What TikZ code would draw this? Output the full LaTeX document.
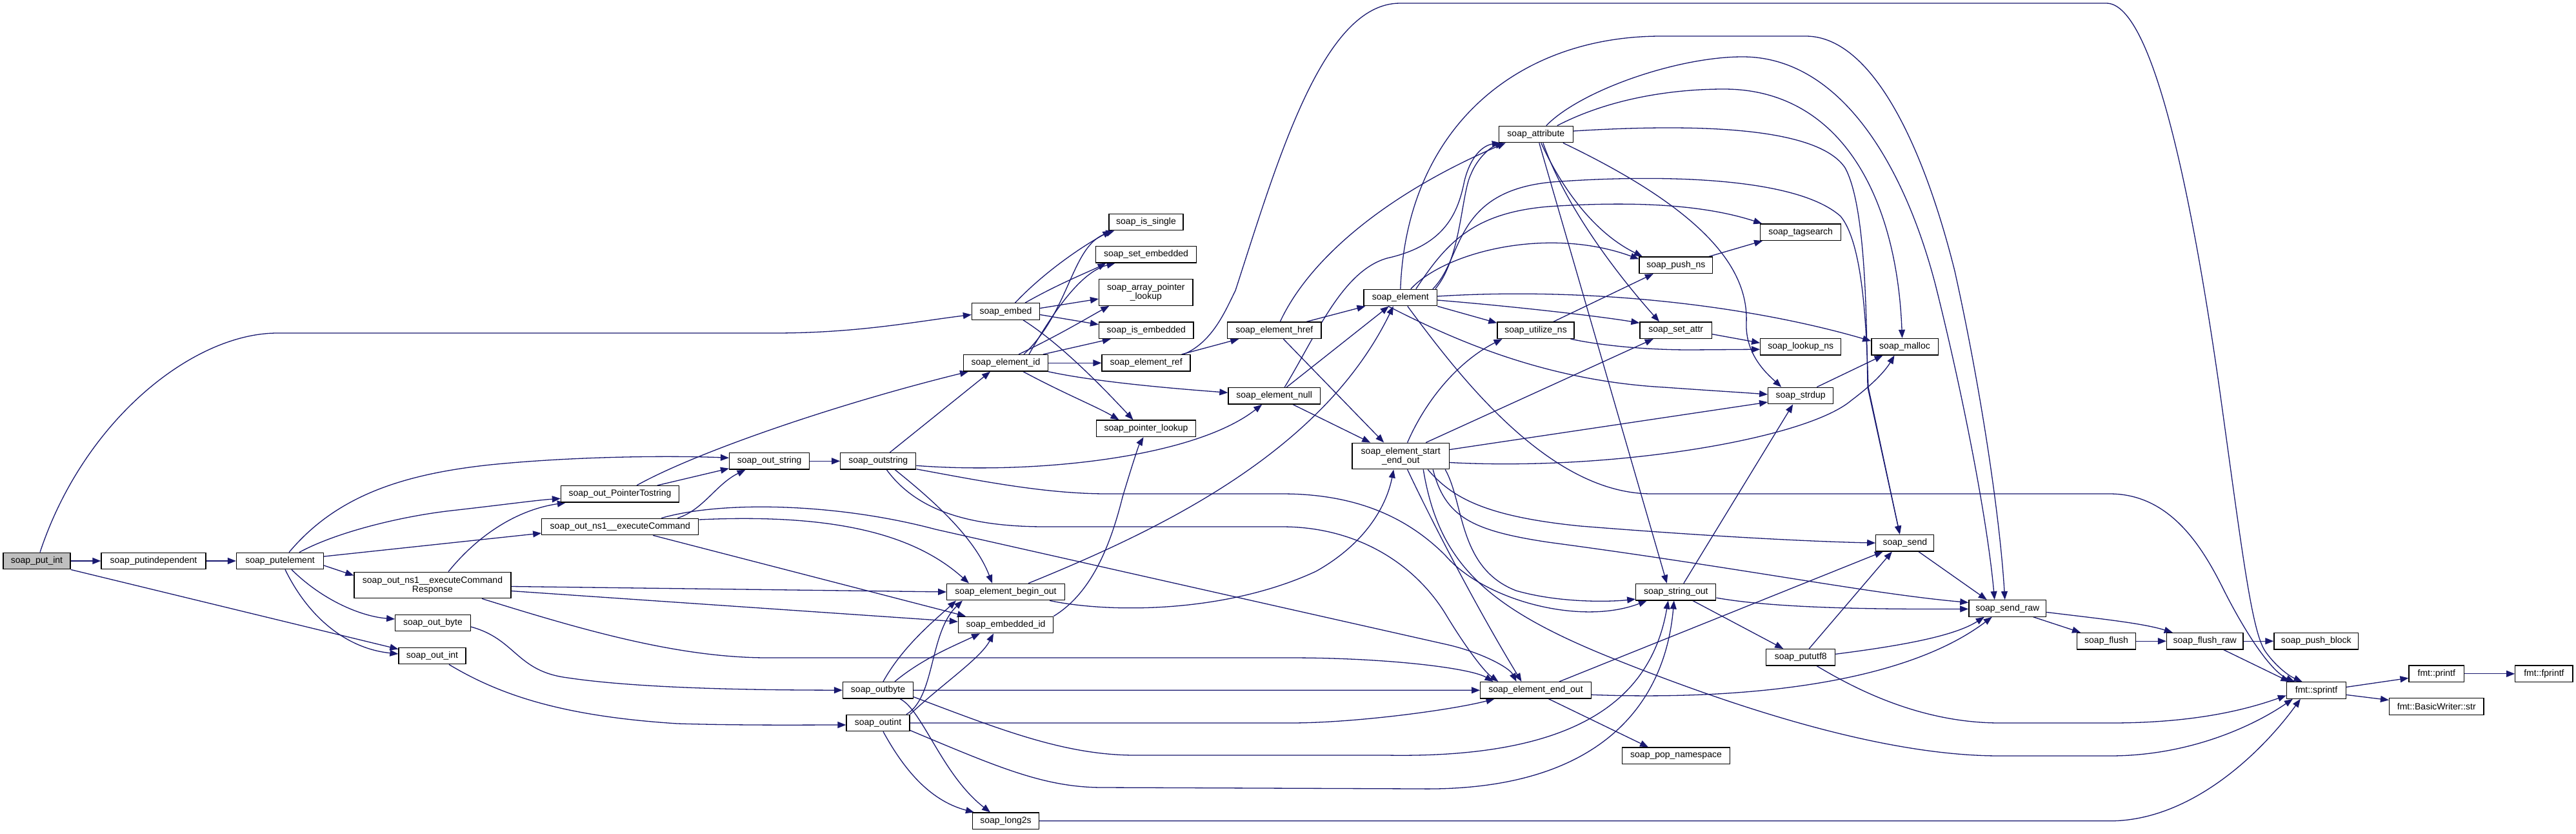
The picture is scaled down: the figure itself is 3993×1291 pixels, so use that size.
\documentclass[tikz,border=0pt]{standalone}
\usepackage{fontspec}
\setmainfont{Liberation Sans}
\usetikzlibrary{arrows.meta}
\definecolor{edgeblue}{RGB}{25,25,112}
\pgfdeclarelayer{bg}
\pgfdeclarelayer{edges}
\pgfsetlayers{bg,edges,main}
\begin{document}
\begin{tikzpicture}[x=1pt,y=-1pt,
  fn/.style={draw=black, fill=white, line width=1.3pt, inner sep=0pt, minimum height=25.5pt, font=\fontsize{14}{14}\selectfont, align=center},
  fntwo/.style={fn, minimum height=40.5pt},
  call/.style={draw=edgeblue, line width=1.3pt, -{Triangle[length=13pt,width=10pt]}},
]
\useasboundingbox (0,0) rectangle (3993,1291);
\begin{pgfonlayer}{bg}
\fill[white] (0,0) rectangle (3993,1291);
\end{pgfonlayer}

% nodes
\node[fn, fill=gray!50, minimum width=104pt] (putint) at (57,869) {soap\_put\_int};
\node[fn, minimum width=162pt] (putindep) at (238,869) {soap\_putindependent};
\node[fn, minimum width=135pt] (putelem) at (434,869) {soap\_putelement};
\node[fntwo, minimum width=243pt] (resp) at (670.5,906.5) {soap\_out\_ns1\_\_executeCommand\\Response};
\node[fn, minimum width=116.5pt] (outbyteA) at (671,965) {soap\_out\_byte};
\node[fn, minimum width=104pt] (outintA) at (670,1016) {soap\_out\_int};
\node[fn, minimum width=183pt] (ptrstr) at (961,765.3) {soap\_out\_PointerTostring};
\node[fn, minimum width=243pt] (execcmd) at (961.3,816) {soap\_out\_ns1\_\_executeCommand};
\node[fn, minimum width=124pt] (outstr) at (1192.6,714.3) {soap\_out\_string};
\node[fn, minimum width=117pt] (outstring) at (1361.3,714.3) {soap\_outstring};
\node[fn, minimum width=109pt] (outbyte) at (1361,1069.2) {soap\_outbyte};
\node[fn, minimum width=98pt] (outint) at (1361,1120) {soap\_outint};
\node[fn, minimum width=105pt] (embed) at (1559,482.5) {soap\_embed};
\node[fn, minimum width=130.5pt] (elemid) at (1559,562.3) {soap\_element\_id};
\node[fn, minimum width=182.5pt] (beginout) at (1559,917) {soap\_element\_begin\_out};
\node[fn, minimum width=147pt] (embid) at (1559,968) {soap\_embedded\_id};
\node[fn, minimum width=102.7pt] (long2s) at (1559,1271.8) {soap\_long2s};
\node[fn, minimum width=115pt] (issingle) at (1776.5,344) {soap\_is\_single};
\node[fn, minimum width=156pt] (setemb) at (1776.5,394.3) {soap\_set\_embedded};
\node[fntwo, minimum width=145.4pt] (arrptr) at (1776.3,453) {soap\_array\_pointer\\\_lookup};
\node[fn, minimum width=146.4pt] (isemb) at (1776.8,511.7) {soap\_is\_embedded};
\node[fn, minimum width=137pt] (elemref) at (1776.6,562.3) {soap\_element\_ref};
\node[fn, minimum width=154pt] (ptrlook) at (1776.5,663.8) {soap\_pointer\_lookup};
\node[fn, minimum width=145.4pt] (href) at (1975.3,511.7) {soap\_element\_href};
\node[fn, minimum width=142.4pt] (null) at (1975.2,613.3) {soap\_element\_null};
\node[fn, minimum width=113.5pt] (elem) at (2170.8,461) {soap\_element};
\node[fntwo, minimum width=150.4pt] (seo) at (2171.2,706.5) {soap\_element\_start\\\_end\_out};
\node[fn, minimum width=115pt] (attr) at (2380.8,208) {soap\_attribute};
\node[fn, minimum width=119pt] (utilns) at (2380.5,511.7) {soap\_utilize\_ns};
\node[fn, minimum width=171.6pt] (endout) at (2380.5,1069.3) {soap\_element\_end\_out};
\node[fn, minimum width=113.6pt] (pushns) at (2597.8,410.7) {soap\_push\_ns};
\node[fn, minimum width=111.4pt] (setattr) at (2597.7,511.7) {soap\_set\_attr};
\node[fn, minimum width=124pt] (strout) at (2597.8,917.1) {soap\_string\_out};
\node[fn, minimum width=167pt] (popns) at (2598,1170.8) {soap\_pop\_namespace};
\node[fn, minimum width=125pt] (tagsearch) at (2791.2,359.7) {soap\_tagsearch};
\node[fn, minimum width=125pt] (lookupns) at (2791.2,537.2) {soap\_lookup\_ns};
\node[fn, minimum width=101pt] (strdup) at (2791.2,613) {soap\_strdup};
\node[fn, minimum width=106.8pt] (pututf) at (2791.2,1018.3) {soap\_pututf8};
\node[fn, minimum width=103.3pt] (malloc) at (2952.5,537.2) {soap\_malloc};
\node[fn, minimum width=90pt] (send) at (2952.8,841.1) {soap\_send};
\node[fn, minimum width=119.7pt] (sendraw) at (3111.7,942.4) {soap\_send\_raw};
\node[fn, minimum width=90.5pt] (flush) at (3265,993.2) {soap\_flush};
\node[fn, minimum width=118.4pt] (flushraw) at (3417.7,993.2) {soap\_flush\_raw};
\node[fn, minimum width=130.5pt] (pushblock) at (3590.2,993.2) {soap\_push\_block};
\node[fn, minimum width=92pt] (sprintf) at (3590.5,1069.4) {fmt::sprintf};
\node[fn, minimum width=85.5pt] (printf) at (3776.8,1043.8) {fmt::printf};
\node[fn, minimum width=89.3pt] (fprintf) at (3943.4,1043.8) {fmt::fprintf};
\node[fn, minimum width=146.4pt] (bwstr) at (3776.8,1094.5) {fmt::BasicWriter::str};

\begin{pgfonlayer}{edges}
% soap_put_int
\draw[call] (putint.east) -- (putindep.west);
\draw[call] ([xshift=5pt]putint.north) .. controls (130,650) and (300,516) .. (430,516) -- (1200,516) .. controls (1330,516) and (1420,498) .. ([yshift=-5pt]embed.west);
\draw[call] (putint.south east) -- ([yshift=-3pt]outintA.north west);
\draw[call] (putindep.east) -- (putelem.west);
% soap_putelement
\draw[call] ([yshift=-7pt]putelem.east) -- ([yshift=15pt]resp.west);
\draw[call] ([xshift=18pt]putelem.south) .. controls (500,930) and (560,955) .. ([yshift=6pt]outbyteA.west);
\draw[call] ([xshift=8pt]putelem.south) .. controls (480,960) and (540,1005) .. ([yshift=3pt]outintA.west);
\draw[call] ([xshift=14pt]putelem.north) .. controls (520,770) and (620,735) .. (760,720) .. controls (900,706) and (1050,706) .. ([yshift=5pt]outstr.west);
\draw[call] ([xshift=30pt]putelem.north) .. controls (520,825) and (620,800) .. (700,791) .. controls (780,782) and (830,775) .. ([yshift=-7pt]ptrstr.west);
\draw[call] ([yshift=7pt]putelem.east) -- ([yshift=-10pt]execcmd.west);
% wrappers
\draw[call] ([yshift=-6pt]outbyteA.east) .. controls (800,990) and (800,1040) .. (880,1050) .. controls (1000,1068) and (1200,1069) .. (outbyte.west);
\draw[call] ([xshift=26pt]outintA.south) .. controls (780,1080) and (880,1110) .. (1050,1121) .. controls (1150,1124) and (1250,1123) .. ([yshift=-3pt]outint.west);
\draw[call] (outstr.east) -- (outstring.west);
\draw[call] ([xshift=26pt]ptrstr.north) .. controls (1080,700) and (1300,625) .. ([xshift=-58pt]elemid.south);
\draw[call] ([xshift=58pt]ptrstr.north) -- ([yshift=2pt]outstr.south west);
\draw[call] ([xshift=89pt]execcmd.north) .. controls (1090,790) and (1110,750) .. ([xshift=-37pt]outstr.south);
\draw[call] ([yshift=11pt]execcmd.east) .. controls (1300,795) and (1420,830) .. ([xshift=-57pt]beginout.north);
\draw[call] ([xshift=51pt]execcmd.south) -- ([xshift=-62pt]embid.north);
\draw[call] ([xshift=64pt]execcmd.north) .. controls (1120,775) and (1300,780) .. (1450,820) -- (2245,999) .. controls (2300,1012) and (2340,1035) .. ([xshift=-30pt]endout.north);
\draw[call] ([xshift=24.5pt]resp.north) .. controls (740,830) and (800,790) .. ([xshift=8pt]ptrstr.south west);
\draw[call] ([yshift=-2pt]resp.east) -- (beginout.west);
\draw[call] ([yshift=-9pt]resp.east) -- ([yshift=5pt]embid.west);
\draw[call] ([xshift=76.5pt]resp.south) .. controls (900,975) and (1050,1019) .. (1190,1019) -- (2000,1019) .. controls (2150,1019) and (2280,1035) .. ([xshift=-66pt]endout.north);
% soap_outstring
\draw[call] ([xshift=18pt]outstring.north) -- ([xshift=-24pt]elemid.south);
\draw[call] ([yshift=-7pt]outstring.east) .. controls (1600,735) and (1850,710) .. ([xshift=-19pt]null.south);
\draw[call] ([yshift=1pt]outstring.south east) .. controls (1520,745) and (1620,765) .. (1716,765) -- (1987,765) .. controls (2100,765) and (2180,800) .. (2240,860) .. controls (2300,930) and (2450,970) .. ([xshift=-45pt]strout.south);
\draw[call] ([xshift=13pt]outstring.south) .. controls (1420,790) and (1500,816) .. (1620,816) -- (1987,816) .. controls (2100,816) and (2190,870) .. (2240,950) .. controls (2270,1000) and (2300,1040) .. ([xshift=-58pt]endout.north);
\draw[call] ([xshift=26pt]outstring.south) .. controls (1440,770) and (1510,830) .. ([xshift=-21pt]beginout.north);
% soap_outbyte
\draw[call] ([xshift=8pt]outbyte.north) .. controls (1400,1000) and (1450,960) .. ([xshift=-77pt]beginout.south);
\draw[call] ([xshift=26pt]outbyte.north) .. controls (1430,1020) and (1480,1000) .. ([xshift=-40pt]embid.south);
\draw[call] (outbyte.east) -- (endout.west);
\draw[call] ([yshift=3pt]outbyte.south east) .. controls (1550,1130) and (1650,1170) .. (1760,1170) -- (2150,1170) .. controls (2450,1175) and (2560,1080) .. ([xshift=-12pt]strout.south);
\draw[call] ([xshift=34pt]outbyte.south) .. controls (1430,1100) and (1460,1200) .. ([xshift=-24pt]long2s.north);
% soap_outint
\draw[call] ([xshift=44pt]outint.north) .. controls (1450,1080) and (1440,980) .. ([xshift=-67pt]beginout.south);
\draw[call] (outint.north east) .. controls (1460,1060) and (1520,1020) .. ([xshift=-19pt]embid.south);
\draw[call] (outint.east) -- (2000,1120) .. controls (2100,1120) and (2250,1100) .. ([xshift=-64pt]endout.south);
\draw[call] ([yshift=2pt]outint.south east) .. controls (1550,1190) and (1620,1220) .. (1710,1220) -- (2200,1222) .. controls (2470,1226) and (2580,1100) .. ([xshift=-3pt]strout.south);
\draw[call] ([xshift=8pt]outint.south) .. controls (1400,1190) and (1440,1240) .. ([xshift=3pt]long2s.north west);
% soap_embed
\draw[call] ([yshift=5pt]embed.east) -- ([yshift=-10pt]arrptr.west);
\draw[call] ([yshift=-5pt]embed.east) -- ([yshift=9pt]isemb.west);
\draw[call] ([xshift=14.5pt]embed.north) .. controls (1620,420) and (1680,380) .. ([xshift=4pt]issingle.south west);
\draw[call] ([xshift=30pt]embed.north) .. controls (1640,440) and (1690,420) .. ([xshift=-62pt]setemb.south);
\draw[call] ([xshift=27pt]embed.south) .. controls (1640,530) and (1700,590) .. ([xshift=-20pt]ptrlook.north);
% soap_element_id
\draw[call] ([xshift=27pt]elemid.south) .. controls (1650,610) and (1700,630) .. ([xshift=-42pt]ptrlook.north);
\draw[call] (elemid.east) -- (elemref.west);
\draw[call] (elemid.south east) .. controls (1700,592) and (1820,602) .. ([yshift=5pt]null.west);
\draw[call] ([xshift=58pt]elemid.north) -- ([xshift=-55pt]isemb.south);
\draw[call] ([xshift=20pt]elemid.north) .. controls (1640,520) and (1690,490) .. ([xshift=-57pt]arrptr.south);
\draw[call] ([xshift=28pt]elemid.north) .. controls (1660,480) and (1660,380) .. ([xshift=9pt]issingle.south west);
\draw[call] ([xshift=36pt]elemid.north) .. controls (1640,470) and (1680,420) .. ([xshift=-48pt]setemb.south);
% soap_element_ref
\draw[call] ([xshift=55pt]elemref.north) -- ([xshift=-55pt]href.south);
\draw[call] ([xshift=58pt]elemref.north) .. controls (1880,530) and (1900,480) .. (1915,450) .. controls (1980,250) and (2050,5) .. (2170,5) -- (3265,5) .. controls (3330,5) and (3390,250) .. (3440,600) .. controls (3475,850) and (3490,980) .. (3512,1010) .. controls (3530,1035) and (3550,1048) .. ([xshift=-22pt]sprintf.north);
% soap_element_href
\draw[call] ([xshift=50pt]href.north) -- ([xshift=3pt]elem.south west);
\draw[call] ([xshift=9pt]href.north) .. controls (2030,400) and (2150,300) .. ([xshift=-47pt]attr.south);
\draw[call] ([xshift=14pt]href.south) -- ([xshift=-26pt]seo.north);
% soap_element_null
\draw[call] ([xshift=19pt]null.north) -- ([xshift=-18pt]elem.south);
\draw[call] ([xshift=16pt]null.north) .. controls (2040,520) and (2080,420) .. (2150,400) .. controls (2240,380) and (2260,330) .. (2270,280) .. controls (2280,240) and (2300,225) .. ([xshift=-55pt]attr.south);
\draw[call] ([xshift=29pt]null.south) -- ([xshift=-47pt]seo.north);
% soap_element_begin_out / embedded_id
\draw[call] ([xshift=35pt]beginout.north) .. controls (1800,820) and (2050,700) .. ([xshift=-11pt]elem.south);
\draw[call] ([xshift=68pt]beginout.south) .. controls (1720,950) and (1900,950) .. (2040,885) .. controls (2120,840) and (2150,780) .. ([xshift=-11pt]seo.south);
\draw[call] (embid.north east) .. controls (1690,920) and (1720,850) .. (1740,770) .. controls (1755,720) and (1765,690) .. ([xshift=-4pt]ptrlook.south);
% soap_element
\draw[call] ([xshift=54pt]elem.north) .. controls (2265,400) and (2265,300) .. (2280,270) .. controls (2290,245) and (2310,228) .. ([xshift=-50pt]attr.south);
\draw[call] ([xshift=16pt]elem.north) .. controls (2240,390) and (2400,350) .. ([yshift=-4pt]pushns.north west);
\draw[call] ([xshift=24pt]elem.north) .. controls (2240,380) and (2280,330) .. (2400,320) .. controls (2550,310) and (2650,320) .. ([xshift=-60pt]tagsearch.north);
\draw[call] ([xshift=50pt]elem.north) .. controls (2270,400) and (2250,290) .. (2420,281) .. controls (2550,272) and (2780,270) .. (2853,335) .. controls (2890,380) and (2893,520) .. (2896,600) -- ([xshift=-8pt]send.north);
\draw[call] (elem.north) .. controls (2180,200) and (2350,56) .. (2575,56) -- (2799,56) .. controls (2900,56) and (2980,220) .. (3030,420) .. controls (3070,600) and (3100,800) .. ([xshift=-4pt]sendraw.north);
\draw[call] ([yshift=2pt]elem.east) .. controls (2450,445) and (2700,470) .. ([yshift=9pt]malloc.west);
\draw[call] ([yshift=-4pt]elem.east) .. controls (2350,475) and (2480,490) .. ([yshift=-2pt]setattr.north west);
\draw[call] (elem.south east) -- ([yshift=-2pt]utilns.north west);
\draw[call] ([xshift=-19pt]elem.south) .. controls (2260,530) and (2400,590) .. (2580,600) .. controls (2650,605) and (2700,608) .. ([yshift=2pt]strdup.west);
\draw[call] ([xshift=11pt]elem.south) .. controls (2260,580) and (2400,765) .. (2560,765) -- (3270,765) .. controls (3360,765) and (3410,840) .. (3445,910) .. controls (3480,980) and (3520,1040) .. ([xshift=-34pt]sprintf.north);
% soap_element_start_end_out
\draw[call] ([xshift=10.4pt]seo.north) .. controls (2210,620) and (2260,560) .. ([xshift=-52pt]utilns.south);
\draw[call] ([xshift=39pt]seo.north) -- ([xshift=-35pt]setattr.south);
\draw[call] ([yshift=10pt]seo.east) -- ([yshift=-10pt]strdup.west);
\draw[call] ([yshift=-10pt]seo.east) .. controls (2500,730) and (2800,680) .. (2870,620) .. controls (2910,590) and (2925,570) .. ([xshift=-16pt]malloc.south);
\draw[call] ([xshift=42pt]seo.south) .. controls (2250,770) and (2300,800) .. (2450,815) .. controls (2700,835) and (2850,840) .. (send.west);
\draw[call] ([xshift=50pt]seo.south) .. controls (2240,800) and (2280,822) .. (2400,840) .. controls (2700,880) and (2900,920) .. ([yshift=9pt]sendraw.west);
\draw[call] ([xshift=69pt]seo.south) .. controls (2270,780) and (2260,880) .. (2350,915) .. controls (2420,935) and (2500,932) .. ([yshift=-11pt]strout.west);
\draw[call] ([xshift=10.4pt]seo.south) .. controls (2230,830) and (2300,960) .. ([xshift=-22pt]endout.north);
\draw[call] ([xshift=35pt]seo.south) .. controls (2230,870) and (2300,940) .. (2500,1020) .. controls (2750,1120) and (2950,1171) .. (3100,1171) -- (3270,1171) .. controls (3400,1171) and (3500,1120) .. ([xshift=10pt]sprintf.south west);
% soap_attribute
\draw[call] ([xshift=16pt]attr.north) .. controls (2450,140) and (2600,88) .. (2701,88) .. controls (2850,88) and (2950,250) .. (3000,441) .. controls (3040,600) and (3080,800) .. ([xshift=-20pt]sendraw.north);
\draw[call] ([xshift=33pt]attr.north) .. controls (2500,150) and (2600,138) .. (2672,138) .. controls (2850,138) and (2940,300) .. ([xshift=-4pt]malloc.north);
\draw[call] ([yshift=5pt]attr.east) .. controls (2650,190) and (2820,200) .. (2860,260) .. controls (2893,320) and (2893,500) .. (2895,600) -- ([xshift=-8pt]send.north);
\draw[call] ([xshift=5pt]attr.south) -- ([xshift=-14pt]strout.north);
\draw[call] ([xshift=8pt]attr.south) .. controls (2420,290) and (2470,360) .. ([xshift=-52pt]pushns.north);
\draw[call] ([xshift=11pt]attr.south) .. controls (2430,330) and (2520,440) .. ([xshift=-25.7pt]setattr.north);
\draw[call] ([xshift=42pt]attr.south) .. controls (2650,330) and (2710,420) .. (2707,500) .. controls (2705,550) and (2740,580) .. ([xshift=-30pt]strdup.north);
% soap_element_end_out
\draw[call] ([xshift=36.5pt]endout.north) -- ([xshift=-34pt]send.south);
\draw[call] ([yshift=-7pt]endout.east) .. controls (2700,1085) and (2950,1060) .. ([xshift=-24pt]sendraw.south);
\draw[call] ([xshift=20pt]endout.south) -- ([xshift=-43pt]popns.north);
% soap_pututf8
\draw[call] ([xshift=13pt]pututf.north) -- ([xshift=-20pt]send.south);
\draw[call] ([yshift=5pt]pututf.east) .. controls (2950,1000) and (3030,985) .. ([xshift=-36pt]sendraw.south);
\draw[call] ([xshift=25pt]pututf.south) .. controls (2880,1070) and (2980,1120) .. (3100,1120) -- (3272,1120) .. controls (3400,1120) and (3480,1100) .. ([yshift=-8pt]sprintf.west);
% soap_string_out
\draw[call] ([xshift=12pt]strout.north) -- ([xshift=-12pt]strdup.south);
\draw[call] ([xshift=26pt]strout.south) -- ([xshift=-27pt]pututf.north);
\draw[call] ([yshift=-9pt]strout.east) .. controls (2750,942) and (2900,944) .. ([yshift=-1pt]sendraw.west);
% namespaces, memory
\draw[call] ([xshift=27.5pt]utilns.north) -- ([xshift=-35pt]pushns.south);
\draw[call] ([xshift=54pt]utilns.south) .. controls (2480,535) and (2550,542) .. (2620,542) -- ([yshift=-4pt]lookupns.west);
\draw[call] ([yshift=-6pt]setattr.east) -- ([yshift=6pt]lookupns.west);
\draw[call] ([xshift=-6pt]pushns.north east) -- ([xshift=4pt]tagsearch.south west);
\draw[call] ([xshift=25pt]strdup.north) -- ([xshift=-34pt]malloc.south);
% sending
\draw[call] ([xshift=21pt]send.south) -- ([xshift=-32pt]sendraw.north);
\draw[call] ([xshift=40pt]sendraw.south) -- ([xshift=-40pt]flush.north);
\draw[call] ([yshift=-6pt]sendraw.east) .. controls (3250,958) and (3320,965) .. ([xshift=-50pt]flushraw.north);
\draw[call] (flush.east) -- (flushraw.west);
\draw[call] (flushraw.east) -- (pushblock.west);
\draw[call] ([xshift=29pt]flushraw.south) -- ([xshift=-42pt]sprintf.north);
% fmt
\draw[call] ([yshift=5pt]sprintf.east) -- ([yshift=-6.6pt]printf.west);
\draw[call] ([yshift=-7pt]sprintf.east) -- ([yshift=10pt]bwstr.west);
\draw[call] (printf.east) -- (fprintf.west);
\draw[call] (long2s.east) -- (3270,1271.8) .. controls (3400,1271.8) and (3510,1160) .. ([xshift=22pt]sprintf.south west);
\end{pgfonlayer}
\end{tikzpicture}
\end{document}
